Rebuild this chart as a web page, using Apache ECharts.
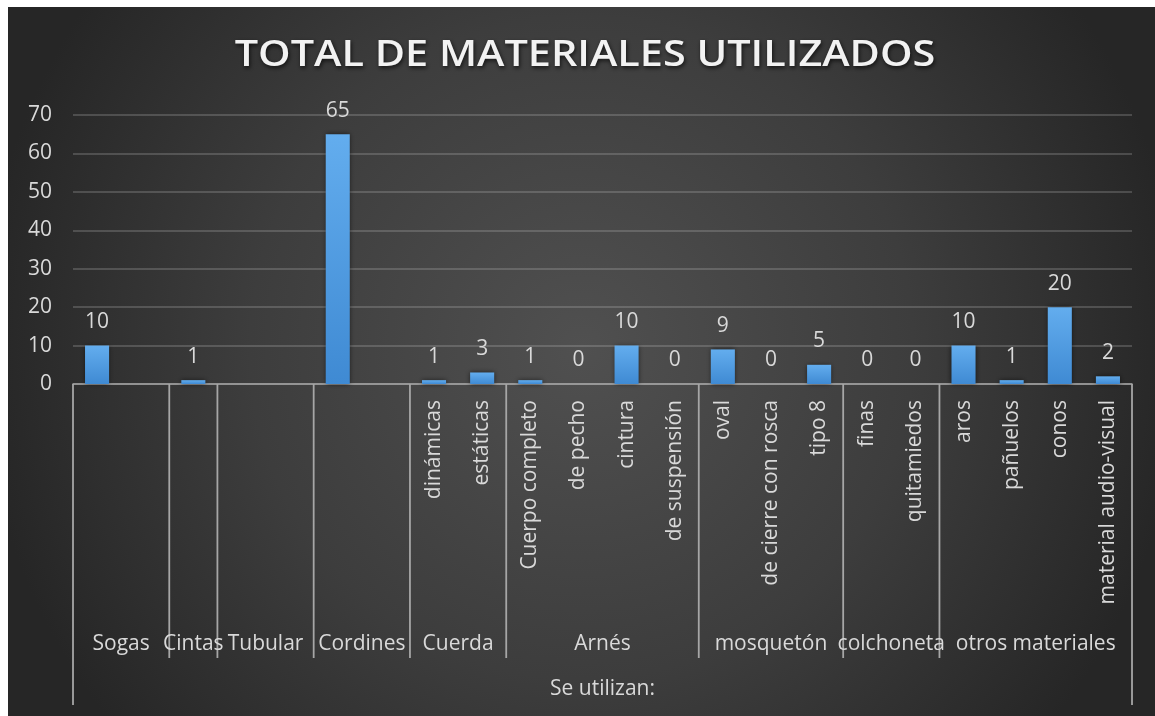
<!DOCTYPE html>
<html>
<head>
<meta charset="utf-8">
<script src="https://cdn.jsdelivr.net/npm/echarts@6/dist/echarts.min.js"></script>
<style>
html,body{margin:0;padding:0;background:#fff;}
#main{width:1155px;height:716px;}
</style>
</head>
<body>
<div id="main"></div>
<script>
// ---- data ----
const titleText = 'TOTAL DE MATERIALES UTILIZADOS';
const leafLabels = ['', '', '', '', '', '', '', 'dinámicas', 'estáticas', 'Cuerpo completo', 'de pecho', 'cintura', 'de suspensión', 'oval', 'de cierre con rosca', 'tipo 8', 'finas', 'quitamiedos', 'aros', 'pañuelos', 'conos', 'material audio-visual'];
const values = [10, null, 1, null, null, 65, null, 1, 3, 1, 0, 10, 0, 9, 0, 5, 0, 0, 10, 1, 20, 2];
const groupNames = ['Sogas', 'Cintas', 'Tubular', 'Cordines', 'Cuerda', 'Arnés', 'mosquetón', 'colchoneta', 'otros materiales'];
const groupSizes = [2, 1, 2, 2, 2, 4, 3, 2, 4];
const outerLabel = 'Se utilizan:';
const yTicks = [0, 10, 20, 30, 40, 50, 60, 70];

const FONT = 'Open Sans';
const TXT = '#d9d9d9';
const chart = echarts.init(document.getElementById('main'));

const bg = {
  type: 'rect', z: -10, silent: true,
  shape: {x: 8, y: 7, width: 1147, height: 709},
  style: {
    fill: new echarts.graphic.RadialGradient(0.5, 0.48, 0.85, [
      {offset: 0, color: '#505050'},
      {offset: 0.55, color: '#3d3d3d'},
      {offset: 1, color: '#262626'}
    ])
  }
};

chart.setOption({
  animation: false,
  backgroundColor: '#ffffff',
  grid: {left: 73, right: 23, top: 115, bottom: 332, containLabel: false},
  xAxis: {
    type: 'category',
    data: leafLabels,
    boundaryGap: true,
    axisLine: {show: true, lineStyle: {color: '#a6a6a6', width: 1.5}},
    axisTick: {show: false},
    axisLabel: {
      interval: 0, rotate: 90, margin: 16,
      color: TXT, fontFamily: FONT, fontSize: 21
    },
    splitLine: {show: false}
  },
  yAxis: {
    type: 'value', min: 0, max: 70, interval: 10,
    axisLine: {show: false}, axisTick: {show: false},
    axisLabel: {
      margin: 21, color: TXT, fontFamily: FONT, fontSize: 21,
      formatter: v => yTicks.includes(v) ? String(v) : ''
    },
    splitLine: {lineStyle: {color: 'rgba(217,217,217,0.28)', width: 1.5}}
  },
  series: [{
    type: 'bar',
    data: values,
    barWidth: '50%',
    itemStyle: {
      color: new echarts.graphic.LinearGradient(0, 0, 0, 1, [
        {offset: 0, color: '#63adee'},
        {offset: 1, color: '#3f8ad3'}
      ]),
      shadowColor: 'rgba(0,0,0,0.6)', shadowBlur: 5
    },
    label: {
      show: true, position: 'top', distance: 13,
      color: TXT, fontFamily: FONT, fontSize: 21
    }
  }],
  graphic: [bg]
});

// build multi-level axis decorations from the library's scale
function decorate() {
  const px = i => chart.convertToPixel({xAxisIndex: 0}, i);
  const band = px(1) - px(0);
  const y0 = chart.convertToPixel({yAxisIndex: 0}, 0);
  const boundary = i => px(0) - band / 2 + i * band;
  const els = [bg];
  const lineStyle = {stroke: '#a6a6a6', lineWidth: 1.8};
  let start = 0;
  groupSizes.forEach((n, g) => {
    const end = start + n;
    if (g < groupSizes.length - 1) {
      els.push({type: 'line', silent: true, shape: {x1: boundary(end), y1: y0, x2: boundary(end), y2: 658}, style: lineStyle});
    }
    els.push({type: 'text', silent: true, x: (boundary(start) + boundary(end)) / 2, y: 644,
      style: {text: groupNames[g], fill: TXT, font: '21px "' + FONT + '"', align: 'center', verticalAlign: 'middle'}});
    start = end;
  });
  const total = start;
  els.push({type: 'line', silent: true, shape: {x1: boundary(0), y1: y0, x2: boundary(0), y2: 705}, style: lineStyle});
  els.push({type: 'line', silent: true, shape: {x1: boundary(total), y1: y0, x2: boundary(total), y2: 705}, style: lineStyle});
  els.push({type: 'text', silent: true, x: (boundary(0) + boundary(total)) / 2, y: 689,
    style: {text: outerLabel, fill: TXT, font: '21px "' + FONT + '"', align: 'center', verticalAlign: 'middle'}});
  els.push({type: 'text', silent: true, x: 585, y: 56, scaleX: 1.15,
    style: {text: titleText, fill: '#f2f2f2', font: '600 36px "' + FONT + '"', align: 'center', verticalAlign: 'middle',
      textShadowColor: 'rgba(0,0,0,0.7)', textShadowBlur: 4, textShadowOffsetX: 1, textShadowOffsetY: 2}});
  chart.setOption({graphic: els}, {replaceMerge: ['graphic']});
}
decorate();
</script>
</body>
</html>
